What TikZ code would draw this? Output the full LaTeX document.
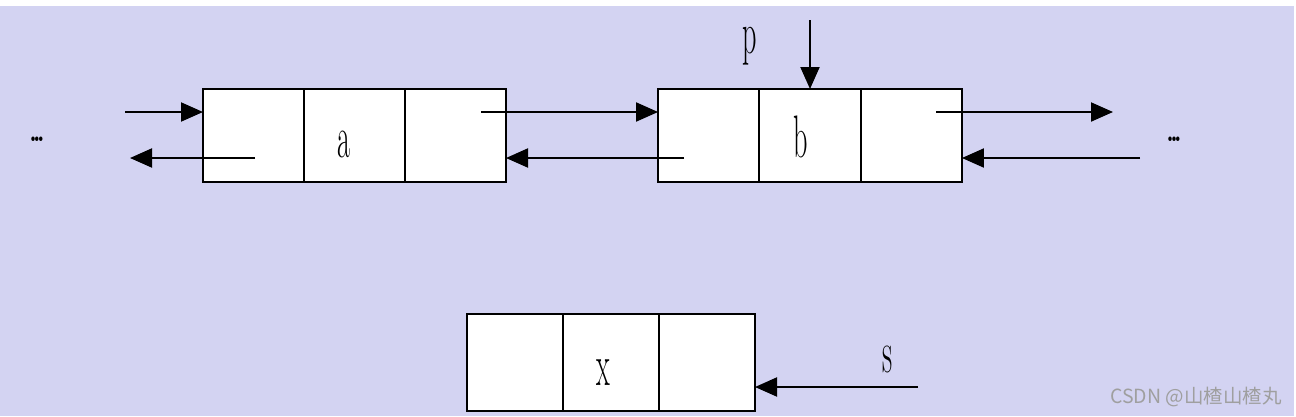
\documentclass[tikz,border=0pt]{standalone}
\usepackage{fontspec}
\newfontfamily\cjkfont{Noto Sans CJK SC}
\usetikzlibrary{arrows.meta}
\definecolor{bgblue}{RGB}{211,211,242}
\newcommand{\mydots}{.\kern-3.6pt.\kern-3.6pt.}
\tikzset{
  cell/.style={draw=black, line width=2.2pt, fill=white, inner sep=0pt, outer sep=0pt, minimum height=93pt},
  arr/.style={line width=2pt, -{Triangle[length=22pt,width=19pt]}},
  lbl/.style={inner sep=0pt, xscale=0.47, font=\fontsize{60}{60}\selectfont},
  dots/.style={inner sep=0pt, yscale=1.3, font=\fontsize{24}{24}\selectfont\bfseries},
}
\begin{document}
\begin{tikzpicture}[x=1pt,y=-1pt]
\useasboundingbox (0,0) rectangle (1296,416);
\fill[bgblue] (0,6) rectangle (1294,416);
% node A
\node[cell, minimum width=101pt] (a1) at (253.5,135.5) {};
\node[cell, minimum width=101pt] (a2) at (354.5,135.5) {};
\node[cell, minimum width=101pt] (a3) at (455.5,135.5) {};
% node B
\node[cell, minimum width=101.3pt] (b1) at (708.7,135.5) {};
\node[cell, minimum width=101.3pt] (b2) at (810,135.5) {};
\node[cell, minimum width=101.3pt] (b3) at (911.3,135.5) {};
% node X
\node[cell, minimum width=96pt, minimum height=97pt] (x1) at (515,362.5) {};
\node[cell, minimum width=96pt, minimum height=97pt] (x2) at (611,362.5) {};
\node[cell, minimum width=96pt, minimum height=97pt] (x3) at (707,362.5) {};
% labels
\node[lbl, anchor=base] (la) at (344,157) {a};
\node[lbl, anchor=base] (lb) at (801,157) {b};
\node[lbl, anchor=base] (lx) at (603,385) {x};
\node[lbl, anchor=base] (lp) at (750,53) {p};
\node[lbl, anchor=base] (ls) at (888,372) {s};
\node[dots, anchor=base] (dl) at (37,141) {\mydots};
\node[dots, anchor=base] (dr) at (1174,141) {\mydots};
% connector endpoints
\coordinate (lin) at (125,112);
\coordinate (lout) at (255,158);
\coordinate (lend) at (130,158);
\coordinate (afw) at (481,112);
\coordinate (bbk) at (684,158);
\coordinate (bfw) at (936,112);
\coordinate (bend) at (1113,112);
\coordinate (rin) at (1140,158);
\coordinate (ptop) at (810,20);
\coordinate (sst) at (918,387);
% connectors
\draw[arr] (lin) -- (lin -| a1.west);
\draw[arr] (lout) -- (lend);
\draw[arr] (afw) -- (afw -| b1.west);
\draw[arr] (bbk) -- (bbk -| a3.east);
\draw[arr] (bfw) -- (bend);
\draw[arr] (rin) -- (rin -| b3.east);
\draw[arr] (ptop) -- (b2.north);
\draw[arr] (sst) -- (sst -| x3.east);
% watermark
\node[inner sep=0pt, text=gray!75, font=\cjkfont\fontsize{19.5}{19.5}\selectfont] (wm) at (1196,397) {CSDN @山楂山楂丸};
\end{tikzpicture}
\end{document}
